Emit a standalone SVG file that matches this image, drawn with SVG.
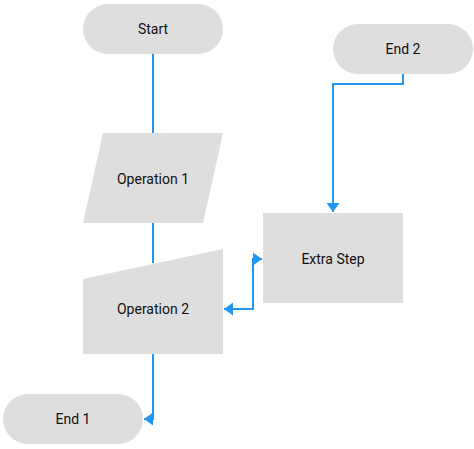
<svg xmlns="http://www.w3.org/2000/svg" width="474" height="449" viewBox="0 0 474 449">
<style>
.n{fill:#dedede;stroke:none}
.t{font-family:Roboto,"Liberation Sans",sans-serif;font-size:14px;fill:#111;text-anchor:middle;dominant-baseline:central}
.c{fill:none;stroke:#2196f3;stroke-width:2}
</style>
<defs>
<marker id="ah" markerUnits="userSpaceOnUse" markerWidth="10" markerHeight="14" viewBox="0 0 10 14" refX="9" refY="7" orient="auto-start-reverse">
<path d="M0,0.5 L9,7 L0,13.5 Z" fill="#2196f3"/>
</marker>
</defs>
<rect width="474" height="449" fill="#fff"/>
<g id="connectors">
<path class="c" d="M153,54 V133"/>
<path class="c" d="M153,223 V263"/>
<path class="c" d="M153,354 V419 H144" marker-end="url(#ah)"/>
<path class="c" d="M403,74 V84 H333 V212" marker-end="url(#ah)"/>
<path class="c" d="M224,309 H253 V259 H262" marker-start="url(#ah)" marker-end="url(#ah)"/>
</g>
<g id="start"><rect class="n" x="83" y="4" width="140" height="50" rx="25"/><text class="t" x="153" y="29">Start</text></g>
<g id="op1"><polygon class="n" points="103,133 223,133 203,223 83,223"/><text class="t" x="153" y="179">Operation 1</text></g>
<g id="op2"><polygon class="n" points="83,279 223,249 223,354 83,354"/><text class="t" x="153" y="309">Operation 2</text></g>
<g id="extra"><rect class="n" x="263" y="213" width="140" height="90"/><text class="t" x="333" y="259">Extra Step</text></g>
<g id="end2"><rect class="n" x="333" y="24" width="140" height="50" rx="25"/><text class="t" x="403" y="49">End 2</text></g>
<g id="end1"><rect class="n" x="3" y="394" width="140" height="50" rx="25"/><text class="t" x="73" y="419">End 1</text></g>
</svg>
